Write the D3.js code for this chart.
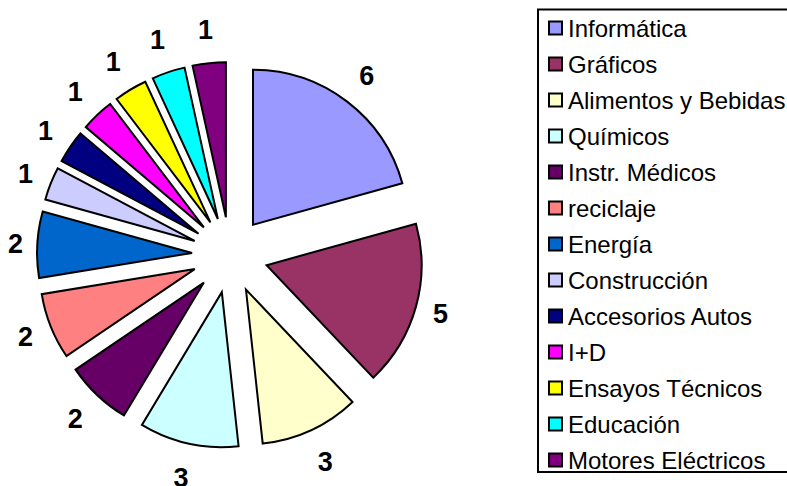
<!DOCTYPE html>
<html>
<head>
<meta charset="utf-8">
<script src="https://cdn.jsdelivr.net/npm/d3@7"></script>
<style>
  html, body { margin: 0; padding: 0; background: #fff; }
  svg { display: block; }
</style>
</head>
<body>
<svg id="chart" width="787" height="486"></svg>
<script>
const categories = ["Informática", "Gráficos", "Alimentos y Bebidas", "Químicos", "Instr. Médicos",
  "reciclaje", "Energía", "Construcción", "Accesorios Autos", "I+D", "Ensayos Técnicos",
  "Educación", "Motores Eléctricos"];
const values = [6, 5, 3, 3, 2, 2, 2, 1, 1, 1, 1, 1, 1];
const colors = ["#9999FF", "#993366", "#FFFFCC", "#CCFFFF", "#660066", "#FF8080", "#0066CC",
  "#CCCCFF", "#000080", "#FF00FF", "#FFFF00", "#00FFFF", "#800080"];

const svg = d3.select("#chart");
const cx = 230, cy = 255, radius = 155, explode = 38;

const data = categories.map((c, i) => ({ name: c, value: values[i], color: colors[i] }));
const pie = d3.pie().value(d => d.value).sort(null).startAngle(0).endAngle(2 * Math.PI);
const arc = d3.arc().innerRadius(0).outerRadius(radius);
const arcs = pie(data);

const g = svg.append("g").attr("transform", `translate(${cx},${cy})`);

g.selectAll("path.slice").data(arcs).join("path")
  .attr("class", "slice")
  .attr("d", arc)
  .attr("fill", d => d.data.color)
  .attr("stroke", "#000")
  .attr("stroke-width", 2)
  .attr("stroke-linejoin", "miter")
  .attr("transform", d => {
    const a = (d.startAngle + d.endAngle) / 2;
    return `translate(${explode * Math.sin(a)},${-explode * Math.cos(a)})`;
  });

const R0 = 210, hw = 4, hh = 17;
function labelPos(d) {
  const a = (d.startAngle + d.endAngle) / 2;
  const s = Math.sin(a), c = Math.cos(a);
  const dist = R0 + hw * Math.abs(s) + hh * Math.abs(c);
  return [dist * s, -dist * c];
}
g.selectAll("text.lbl").data(arcs).join("text")
  .attr("class", "lbl")
  .attr("x", d => labelPos(d)[0])
  .attr("y", d => labelPos(d)[1])
  .attr("dy", "0.36em")
  .attr("text-anchor", "middle")
  .attr("font-family", "'Liberation Sans', Arial, sans-serif")
  .attr("font-weight", "bold")
  .attr("font-size", 27)
  .attr("fill", "#000")
  .text(d => d.data.value);

// Legend
const legendX = 538, legendY = 9.5, rowH = 36;
svg.append("rect")
  .attr("x", legendX).attr("y", legendY)
  .attr("width", 270).attr("height", 462.5)
  .attr("fill", "#fff").attr("stroke", "#000").attr("stroke-width", 2);

const items = svg.append("g").selectAll("g").data(data).join("g")
  .attr("transform", (d, i) => `translate(${legendX + 11},${legendY + 18.5 + i * rowH})`);
items.append("rect")
  .attr("x", 0).attr("y", -6.5).attr("width", 13).attr("height", 13)
  .attr("fill", d => d.color).attr("stroke", "#000").attr("stroke-width", 2);
items.append("text")
  .attr("x", 19).attr("y", 0).attr("dy", "0.36em")
  .attr("font-family", "'Liberation Sans', Arial, sans-serif")
  .attr("font-size", 24)
  .attr("fill", "#000")
  .text(d => d.name);
</script>
</body>
</html>
